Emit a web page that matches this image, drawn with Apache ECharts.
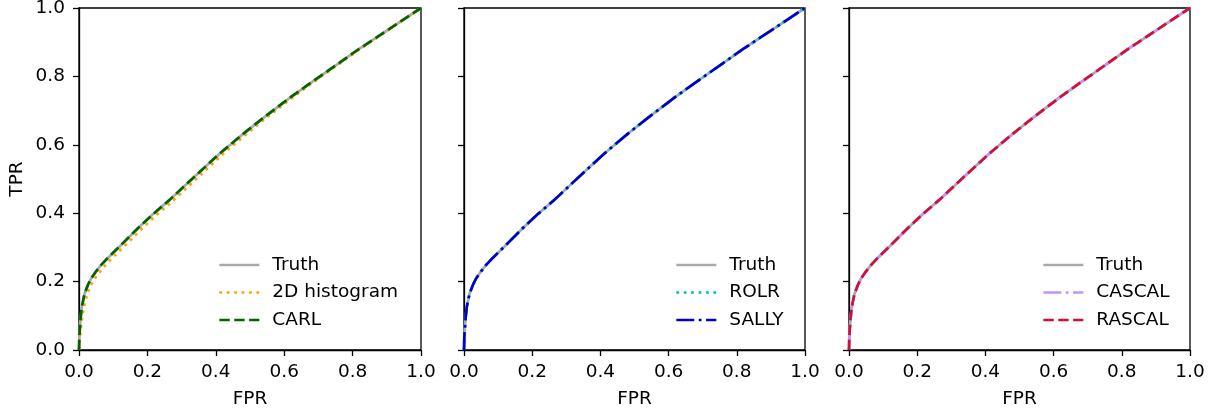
<!DOCTYPE html>
<html>
<head>
<meta charset="utf-8">
<script src="https://cdn.jsdelivr.net/npm/echarts@6/dist/echarts.min.js"></script>
<style>
html,body{margin:0;padding:0;background:#fff;}
#chart{width:1218px;height:411px;}
</style>
</head>
<body>
<div id="chart"></div>
<script>
// ---- data ----
const axisTicks = [0, 0.2, 0.4, 0.6, 0.8, 1.0];

// Truth ROC curve (FPR, TPR)
const fprTruth = [0, 0.001, 0.004, 0.008, 0.016, 0.026, 0.036, 0.05, 0.065, 0.085, 0.118, 0.17, 0.215, 0.265, 0.34, 0.411, 0.48, 0.542, 0.62, 0.69, 0.76, 0.82, 0.9, 1];
const tprTruth = [0, 0.04, 0.086, 0.125, 0.164, 0.19, 0.21, 0.23, 0.249, 0.27, 0.302, 0.354, 0.396, 0.439, 0.509, 0.574, 0.632, 0.681, 0.74, 0.79, 0.839, 0.881, 0.934, 1];

// 2D histogram (slightly below / right of the truth)
const fprHist = [0, 0.003, 0.008, 0.014, 0.024, 0.035, 0.047, 0.062, 0.078, 0.098, 0.131, 0.183, 0.228, 0.278, 0.352, 0.422, 0.49, 0.55, 0.627, 0.695, 0.764, 0.823, 0.902, 1];
const tprHist = [0, 0.04, 0.086, 0.125, 0.164, 0.19, 0.21, 0.23, 0.249, 0.27, 0.302, 0.354, 0.396, 0.439, 0.509, 0.574, 0.632, 0.681, 0.74, 0.79, 0.839, 0.881, 0.934, 1];

// CARL, ROLR, SALLY, CASCAL, RASCAL coincide with the truth curve
const fprCarl = fprTruth, tprCarl = tprTruth;
const fprRolr = fprTruth, tprRolr = tprTruth;
const fprSally = fprTruth, tprSally = tprTruth;
const fprCascal = fprTruth, tprCascal = tprTruth;
const fprRascal = fprTruth, tprRascal = tprTruth;

const panelLegends = [
  ['Truth', '2D histogram', 'CARL'],
  ['Truth', 'ROLR', 'SALLY'],
  ['Truth', 'CASCAL', 'RASCAL']
];

// ---- chart ----
const FONT = 'DejaVu Sans';
const FS = 18.5;
const LW = 2.7;
function zip(xs, ys) { return xs.map((x, i) => [x, ys[i]]); }

const grids = [
  {left: 79, top: 8, width: 342, height: 342},
  {left: 464, top: 8, width: 341, height: 342},
  {left: 849, top: 8, width: 341, height: 342}
].map(g => Object.assign(g, {show: true, borderColor: '#000', borderWidth: 1.3,
  containLabel: false, outerBoundsMode: 'none'}));

const xAxes = [0, 1, 2].map(i => ({
  type: 'value', gridIndex: i, min: 0, max: 1, interval: 0.2,
  name: 'FPR', nameLocation: 'middle', nameGap: 40,
  nameTextStyle: {fontFamily: FONT, fontSize: FS, color: '#000'},
  axisLine: {show: true, lineStyle: {color: '#000', width: 1.3}},
  axisTick: {show: true, length: 6, inside: false, lineStyle: {color: '#000', width: 1.3}},
  axisLabel: {show: true, margin: 13, fontFamily: FONT, fontSize: FS, color: '#000',
    formatter: v => v.toFixed(1)},
  splitLine: {show: false}
}));

const yAxes = [0, 1, 2].map(i => ({
  type: 'value', gridIndex: i, min: 0, max: 1, interval: 0.2,
  name: i === 0 ? 'TPR' : '', nameLocation: 'middle', nameGap: 52,
  nameTextStyle: {fontFamily: FONT, fontSize: FS, color: '#000'},
  axisLine: {show: true, lineStyle: {color: '#000', width: 1.3}},
  axisTick: {show: true, length: 6, inside: false, lineStyle: {color: '#000', width: 1.3}},
  axisLabel: {show: i === 0, margin: 14, fontFamily: FONT, fontSize: FS, color: '#000',
    formatter: v => v.toFixed(1)},
  splitLine: {show: false}
}));

function line(name, idx, xs, ys, color, dash, z) {
  return {
    name: name, type: 'line', xAxisIndex: idx, yAxisIndex: idx,
    data: zip(xs, ys), symbol: 'none', showSymbol: false,
    smooth: false, z: z,
    lineStyle: {color: color, width: LW, type: dash},
    itemStyle: {color: color},
    emphasis: {disabled: true}
  };
}

const GRAY = '#a9a9a9';
const DASHED = [10.4, 4.5];
const DOTTED = [2.8, 4.6];
const DASHDOT = [17.9, 4.5, 2.8, 4.5];
const series = [
  line('Truth', 0, fprTruth, tprTruth, GRAY, 'solid', 2),
  line('2D histogram', 0, fprHist, tprHist, '#ffa500', DOTTED, 3),
  line('CARL', 0, fprCarl, tprCarl, '#006400', DASHED, 4),
  line('Truth', 1, fprTruth, tprTruth, GRAY, 'solid', 2),
  line('ROLR', 1, fprRolr, tprRolr, '#00bfbf', DOTTED, 3),
  line('SALLY', 1, fprSally, tprSally, '#0000cd', DASHDOT, 4),
  line('Truth', 2, fprTruth, tprTruth, GRAY, 'solid', 2),
  line('CASCAL', 2, fprCascal, tprCascal, '#bf94ff', DASHDOT, 3),
  line('RASCAL', 2, fprRascal, tprRascal, '#d0103a', DASHED, 4)
];

const legendLefts = [218, 675, 1042];
const legends = panelLegends.map((names, i) => ({
  data: names, orient: 'vertical', left: legendLefts[i], top: 255.5,
  itemWidth: 40, itemHeight: 14, itemGap: 8.5, padding: 0,
  selectedMode: false,
  itemStyle: {opacity: 0},
  lineStyle: {width: LW},
  textStyle: {fontFamily: FONT, fontSize: FS, color: '#000', padding: [0, 0, 0, 8]}
}));

const chart = echarts.init(document.getElementById('chart'), null, {renderer: 'canvas'});
chart.setOption({
  animation: false,
  backgroundColor: '#fff',
  grid: grids,
  xAxis: xAxes,
  yAxis: yAxes,
  legend: legends,
  series: series
});
</script>
</body>
</html>
